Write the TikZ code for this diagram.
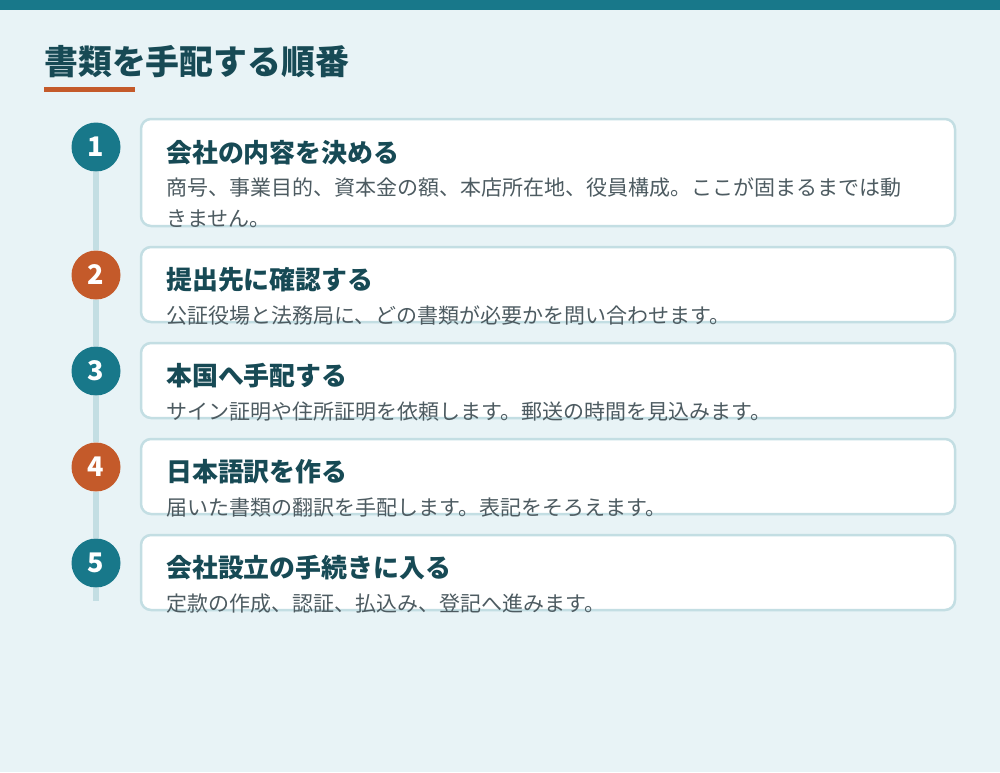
\documentclass[tikz,border=0pt]{standalone}
\usepackage{fontspec}
\setmainfont{Noto Sans CJK JP}
\definecolor{bgc}{HTML}{E8F3F6}
\definecolor{teal}{HTML}{18788A}
\definecolor{rust}{HTML}{C45A2A}
\definecolor{line}{HTML}{C3DEE3}
\definecolor{headc}{HTML}{174A55}
\definecolor{descc}{HTML}{4D5B61}
\tikzset{
  card/.style={draw=line, line width=2.5pt, fill=white, rounded corners=10pt},
  numc/.style={circle, minimum size=49pt, inner sep=0pt, text=white, font=\fontsize{27}{27}\selectfont\bfseries},
  head/.style={anchor=base west, inner sep=0pt, text=headc, font=\fontsize{25.9}{30}\selectfont\bfseries},
  desc/.style={anchor=base west, inner sep=0pt, text=descc, align=left, font=\fontsize{21}{31}\selectfont},
}
\begin{document}
\begin{tikzpicture}[x=1pt,y=-1pt]
\useasboundingbox (0,0) rectangle (1000,772);
\fill[bgc] (0,0) rectangle (1000,772);
\fill[teal] (0,0) rectangle (1000,10);
\node[anchor=base west, inner sep=0pt, text=headc, font=\fontsize{33.9}{40}\selectfont\bfseries] (title) at (44,74) {書類を手配する順番};
\fill[rust] (44,87) rectangle (135,92);
% timeline
\coordinate (lend) at (96,601);
% cards
\draw[card] (141,119) rectangle (955,226);
\draw[card] (141,247) rectangle (955,322);
\draw[card] (141,343) rectangle (955,418);
\draw[card] (141,439) rectangle (955,514);
\draw[card] (141,535) rectangle (955,610);
% circles
\node[numc, fill=teal] (c1) at (96,147) {1};
\node[numc, fill=rust] (c2) at (96,275) {2};
\node[numc, fill=teal] (c3) at (96,371) {3};
\node[numc, fill=rust] (c4) at (96,467) {4};
\node[numc, fill=teal] (c5) at (96,563) {5};
\draw[line, line width=6pt] (c1.south) -- (c2.north);
\draw[line, line width=6pt] (c2.south) -- (c3.north);
\draw[line, line width=6pt] (c3.south) -- (c4.north);
\draw[line, line width=6pt] (c4.south) -- (c5.north);
\draw[line, line width=6pt] (c5.south) -- (lend);
% texts
\node[head] (h1) at (166,162) {会社の内容を決める};
\node[desc] (d1) at (166,226) {商号、事業目的、資本金の額、本店所在地、役員構成。ここが固まるまでは動\\きません。};
\node[head] (h2) at (166,289) {提出先に確認する};
\node[desc] (d2) at (166,323) {公証役場と法務局に、どの書類が必要かを問い合わせます。};
\node[head] (h3) at (166,385) {本国へ手配する};
\node[desc] (d3) at (166,419) {サイン証明や住所証明を依頼します。郵送の時間を見込みます。};
\node[head] (h4) at (166,481) {日本語訳を作る};
\node[desc] (d4) at (166,515) {届いた書類の翻訳を手配します。表記をそろえます。};
\node[head] (h5) at (166,577) {会社設立の手続きに入る};
\node[desc] (d5) at (166,611) {定款の作成、認証、払込み、登記へ進みます。};
\end{tikzpicture}
\end{document}
